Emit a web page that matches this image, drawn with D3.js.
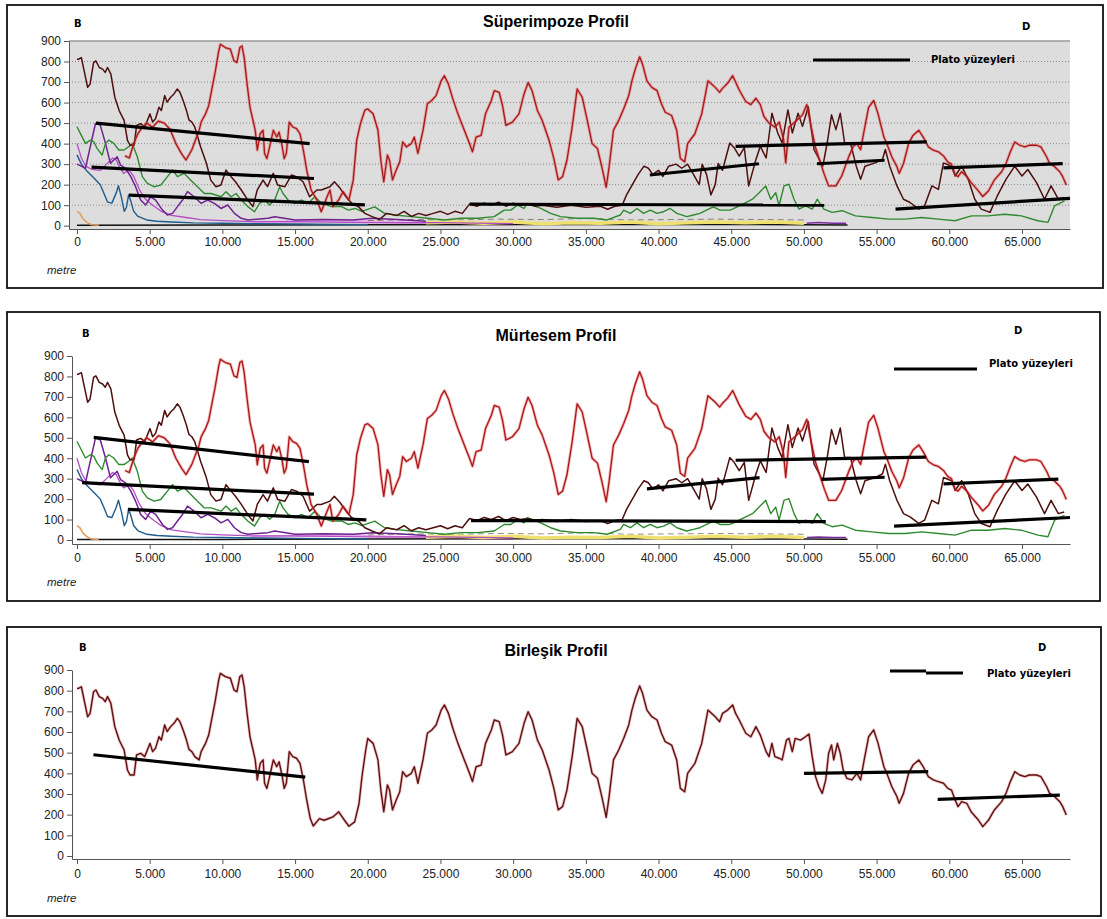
<!DOCTYPE html>
<html>
<head>
<meta charset="utf-8">
<title>Profil</title>
<script src="https://cdn.jsdelivr.net/npm/d3@7"></script>
<style>
  body { margin: 0; background: #fff; }
  svg { display: block; }
</style>
</head>
<body>
<div id="chart"></div>
<script>
// values are [metre, height]

// combined profile (Birlesik) - upper envelope
const combinedProfile = [
  [0,811],[100,811],[300,819],[730,674],[900,690],[1140,795],[1300,803],[1530,771],[1760,763],[1940,747],
  [2100,771],[2330,739],[2600,626],[2900,561],[3240,513],[3470,416],[3650,392],[3930,392],[4100,489],[4380,497],
  [4660,481],[4840,513],[5020,545],[5200,505],[5400,521],[5640,577],[5800,561],[6030,634],[6200,602],[6440,626],
  [6670,642],[6900,666],[7080,650],[7300,610],[7530,561],[7700,516],[7900,505],[8100,481],[8400,465],[8540,505],
  [8840,545],[9060,585],[9300,674],[9500,747],[9750,852],[9860,884],[10200,868],[10550,860],[10800,803],[11000,795],
  [11200,868],[11350,876],[11500,819],[11700,690],[11900,577],[12260,465],[12400,368],[12600,448],[12800,465],[12900,352],
  [13060,327],[13300,400],[13500,465],[13740,432],[13900,456],[14100,392],[14250,327],[14400,352],[14600,505],[14840,481],
  [15100,473],[15340,448],[15570,368],[15800,271],[16050,180],[16250,145],[16670,181],[17000,173],[17600,189],[18000,214],
  [18400,173],[18700,144],[19100,165],[19400,254],[19600,383],[19860,513],[20000,569],[20370,545],[20700,465],[20900,319],
  [21100,214],[21350,344],[21500,319],[21700,223],[21960,271],[22200,311],[22400,408],[22650,384],[23000,400],[23200,432],
  [23450,352],[23800,465],[24100,594],[24400,610],[24700,634],[25050,706],[25270,731],[25550,690],[25850,618],[26200,545],
  [26640,465],[27000,400],[27200,360],[27450,432],[27800,440],[28100,545],[28500,610],[28700,658],[29040,650],[29270,585],
  [29500,489],[29950,505],[30400,545],[30750,642],[31030,698],[31300,658],[31670,561],[32000,513],[32470,416],[32800,327],
  [33100,223],[33400,239],[33700,319],[34060,481],[34400,666],[34750,626],[35100,513],[35430,400],[35800,376],[36100,287],
  [36400,187],[36600,287],[36900,465],[37260,513],[37600,569],[37950,634],[38170,706],[38400,763],[38700,823],[38900,787],
  [39200,706],[39540,674],[39900,658],[40200,594],[40460,553],[40900,537],[41250,465],[41500,327],[41800,311],[42000,400],
  [42500,448],[42970,545],[43400,706],[43900,674],[44200,650],[44400,690],[44750,706],[45100,731],[45300,690],[45550,658],
  [46000,594],[46350,577],[46700,626],[47000,585],[47400,505],[47600,481],[47800,545],[48000,481],[48300,473],[48500,465],
  [48800,561],[48970,569],[49200,505],[49400,569],[49770,561],[50100,577],[50350,590],[50570,481],[50800,384],[51030,335],
  [51260,303],[51500,368],[51700,497],[51900,537],[52050,465],[52300,545],[52500,497],[52700,416],[52950,376],[53300,368],
  [53650,400],[53900,368],[54100,448],[54450,577],[54800,610],[55100,545],[55500,432],[55700,400],[56050,335],[56400,287],
  [56550,255],[56850,303],[57200,400],[57500,440],[57900,465],[58200,432],[58560,384],[58900,368],[59250,360],[59600,352],
  [59900,327],[60150,319],[60400,271],[60600,239],[60850,263],[61200,255],[61500,214],[62000,174],[62300,142],[62700,174],
  [63100,223],[63600,263],[63900,303],[64200,360],[64500,408],[64840,392],[65200,384],[65500,392],[66000,392],[66300,384],
  [66700,335],[66900,303],[67250,287],[67600,263],[67800,239],[68050,198]
];

// red profile where it leaves the envelope
const redLeadIn = [
  [3300,340],[3600,330],[3900,400],[4200,450],[4500,480],[4800,500],[5200,480],[5600,510],[6000,500],[6400,470],
  [6800,400],[7200,350],[7500,320],[7900,370],[8400,465]
];
const redDip = [
  [15800,271],[16100,174],[16500,125],[16800,68],[17200,141],[17400,174],[17600,93],[18000,125],[18300,166],[18700,125],
  [19000,222],[19240,417],[19500,498],[19800,563]
];
const redEast = [
  [44400,669],[44750,694],[45100,731],[45300,700],[45550,661],[46000,605],[46350,590],[46700,621],[47000,590],[47250,532],
  [47600,500],[48000,480],[48300,505],[48600,420],[48750,306],[48970,480],[49300,500],[49600,520],[49900,540],[50200,590],
  [50500,480],[50800,380],[51030,330],[51400,250],[51700,194],[52200,194],[52600,242],[53100,339],[53400,387],[53650,400],
  [53900,370],[54100,448],[54450,577],[54800,610],[55100,545],[55500,432],[55700,400],[56050,335],[56400,287],[56550,255],
  [56850,303],[57200,400],[57500,440],[57900,465],[58200,432],[58560,384],[58900,368],[59250,360],[59600,340],[59900,310],
  [60150,300],[60400,250],[60600,239],[60850,263],[61200,240],[61500,210],[62000,170],[62300,142],[62700,170],[63100,223],
  [63600,263],[63900,303],[64200,360],[64500,408],[64840,392],[65200,384],[65500,392],[66000,392],[66300,384],[66700,335],
  [66900,303],[67250,287],[67600,263],[67800,239],[68050,198]
];

// dark (maroon) profile after it drops below the red one
const maroonTail = [
  [8500,385],[8900,304],[9200,222],[9560,190],[9900,198],[10250,271],[10600,239],[10900,214],[11300,174],[11750,125],
  [12100,93],[12400,174],[12800,222],[13100,190],[13500,255],[13800,198],[14300,190],[14750,247],[15100,239],[15550,214],
  [16000,141],[16500,174],[16800,174],[17400,190],[17700,214],[18100,182],[18500,141],[18900,109],[19350,93],[19800,60],
  [20300,44],[20800,30],[21300,60],[22000,50],[22500,70],[23000,45],[23500,60],[24000,50],[24500,60],[25000,70],
  [25500,55],[26000,70],[26500,60],[27000,105],[27500,95],[28000,110],[28500,100],[29000,115],[29500,95],[30000,110],
  [30500,100],[31000,105],[31500,95],[32000,100],[33000,90],[34000,100],[35000,90],[36000,95],[36500,80],[37000,95],
  [37500,100],[37800,150],[38200,200],[38600,250],[39000,290],[39300,280],[39600,250],[40000,270],[40300,240],[40700,290],
  [41200,300],[41600,280],[42000,300],[42400,250],[42800,200],[43000,300],[43300,250],[43600,150],[43900,200],[44100,303],
  [44400,270],[44900,403],[45200,380],[45550,339],[45900,380],[46200,194],[46700,323],[47000,387],[47400,330],[47800,548],
  [48200,452],[48500,403],[48900,564],[49200,452],[49600,548],[49900,484],[50300,580],[50700,371],[51300,290],[51600,403],
  [51900,540],[52200,468],[52500,548],[52800,403],[53200,403],[53600,290],[53900,226],[54200,290],[54900,306],[55400,323],
  [55600,371],[55900,290],[56400,194],[56850,129],[57300,113],[57900,81],[58300,97],[58800,194],[59250,177],[59600,306],
  [60150,290],[60400,242],[60850,290],[61300,226],[61750,129],[62200,81],[62800,65],[63300,145],[63900,226],[64500,290],
  [65000,242],[65400,274],[66000,210],[66550,129],[67000,194],[67500,129],[67900,137]
];

const greenTrace = [
  [0,482],[230,450],[580,401],[920,417],[1150,410],[1380,377],[1730,344],[1960,401],[2190,417],[2530,401],
  [2880,369],[3230,369],[3570,385],[3800,401],[4150,336],[4490,239],[4840,206],[5300,190],[5760,198],[6220,239],
  [6570,271],[6910,239],[7370,255],[7830,222],[8290,190],[8760,157],[9220,157],[9910,141],[10250,166],[10600,141],
  [10940,157],[11290,125],[11750,93],[12210,68],[12560,109],[12900,125],[13250,101],[13600,125],[13940,190],[14170,157],
  [14520,125],[14980,109],[15440,125],[15900,109],[16360,141],[16820,109],[17510,93],[18200,93],[18660,76],[19120,84],
  [19590,70],[20480,92],[20820,76],[21160,60],[21850,52],[22990,44],[24130,36],[25270,28],[26420,36],[27560,36],
  [28700,44],[29380,76],[29840,76],[30300,100],[30750,84],[30980,109],[31900,84],[32580,60],[33260,44],[34400,36],
  [35550,36],[36460,28],[37370,52],[37600,76],[38060,60],[38520,84],[38970,60],[39430,76],[39890,60],[40340,68],
  [40800,84],[41260,60],[41940,44],[42400,52],[42850,60],[43300,76],[43770,92],[44220,76],[44900,76],[45090,81],
  [46000,113],[46460,129],[46920,161],[47370,194],[47720,129],[48060,161],[48290,97],[48630,194],[48970,202],[49320,129],
  [49660,81],[50110,97],[50570,81],[50910,129],[51370,81],[51940,65],[52630,73],[53540,48],[54680,40],[55820,32],
  [56960,32],[58100,40],[59250,32],[60390,24],[61530,48],[62670,48],[63810,56],[64950,48],[66100,24],[66780,16],
  [67240,97],[67920,121]
];

const purpleA = [
  [0,300],[300,290],[580,280],[1270,498],[1600,490],[1960,401],[2300,304],[2530,320],[2760,336],[3000,295],
  [3340,279],[3700,239],[4030,190],[4380,125],[4720,101],[5070,141],[5410,125],[5880,76],[6220,52],[6570,60],
  [6910,93],[7260,125],[7600,166],[8060,141],[8530,109],[8990,125],[9450,109],[9910,84],[10370,101],[10830,60],
  [11290,36],[11750,28],[13130,36],[13600,44],[15000,28],[17000,30],[19000,28],[20300,36],[22000,30],[24000,22]
];
const purpleB = [
  [0,400],[300,330],[600,290],[1000,275],[1600,270],[2100,305],[2450,330],[2700,320],[2900,290],[3200,255],
  [3600,270],[3900,240],[4300,175],[4700,130],[5200,100],[5800,70],[6500,50],[7500,40],[8500,30],[10000,25],
  [12000,20],[15000,20],[20000,15],[25000,15],[30000,10]
];
const purpleEast = [[50200,12],[51000,15],[52000,12],[52900,12]];

const blueTrace = [
  [0,345],[300,300],[700,265],[1200,230],[1600,200],[1900,150],[2100,115],[2400,110],[2700,160],[2850,195],
  [3050,140],[3250,70],[3400,90],[3550,150],[3700,120],[3900,70],[4200,45],[4800,28],[5500,22],[6500,18],
  [8000,14],[10000,12],[12000,10],[15000,8],[18000,6],[20000,5]
];
const orangeTrace = [[0,70],[200,60],[400,35],[700,15],[1000,5],[1500,3]];
const yellowBand = [
  [24000,14],[26000,18],[28000,12],[30000,18],[32000,10],[34000,14],[36000,12],[38000,18],[40000,10],[42000,14],
  [44000,18],[46000,14],[48000,18],[50000,12]
];
const pinkBand = [[12000,15],[15000,20],[18000,25],[20000,20],[22000,15],[25000,10],[28000,8],[30000,5]];
const oliveTrace = [
  [20000,25],[23000,30],[26000,28],[29000,32],[32000,30],[35000,35],[38000,28],[41000,30],[44000,32],[47000,30],[50000,28]
];
const blackBase = [[0,2],[10000,3],[20000,5],[30000,6],[40000,6],[50000,5],[53000,4]];

// plateau surfaces: [x1, h1, x2, h2]
const plateauSuper = [
  [1300,500,16000,400],[1000,285,16300,230],[3570,149,19800,101],[27000,105,51400,100],[39400,247,46900,302],
  [45300,387,58450,408],[50900,302,55550,319],[59600,282,67800,302],[56300,81,68300,133]
];
const plateauMurt = [
  [1150,502,15950,383],[350,281,16300,224],[3500,150,19900,98],[27100,95,51500,90],[39200,250,46950,305],
  [45300,390,58400,405],[51200,297,55550,307],[59600,275,67500,298],[56200,68,68300,110]
];
const plateauBirl = [[1130,490,15700,382],[50000,400,58550,408],[59200,274,67600,295]];

const xTicks = d3.range(0, 65001, 5000);
const yTicks = d3.range(0, 901, 100);

// red and dark profiles of the first two panels
const redTop = [].concat(
  redLeadIn,
  combinedProfile.filter(d => d[0] >= 8540 && d[0] <= 15570),
  redDip,
  combinedProfile.filter(d => d[0] >= 20000 && d[0] <= 44200),
  redEast
);
const maroonTop = [].concat(combinedProfile.filter(d => d[0] <= 8100), maroonTail);

const fmt = d3.formatLocale({ decimal: ",", thousands: ".", grouping: [3], currency: ["", ""] }).format(",");
const FONT = "'Liberation Sans', Arial, sans-serif";
const BOLD = "'DejaVu Sans', Verdana, sans-serif";

const svg = d3.select("#chart").append("svg")
  .attr("width", 1107)
  .attr("height", 919);

const x = d3.scaleLinear().domain([0, 65000]).range([77, 1022]);
const xRight = 1070;

const allSeries = [
  { data: pinkBand, color: "#e8a8e8", width: 2.5 },
  { data: oliveTrace, color: "#4d4222", width: 1, dash: "6,4", opacity: 0.6 },
  { data: blackBase, color: "#111", width: 1.5 },
  { data: yellowBand, color: "#f0e070", width: 3.5 },
  { data: orangeTrace, color: "#e0a060", width: 1.6 },
  { data: blueTrace, color: "#1f5c8c", width: 1.4 },
  { data: purpleB, color: "#b24ec4", width: 1.3 },
  { data: purpleA, color: "#6e2390", width: 1.5 },
  { data: purpleEast, color: "#7a2a9a", width: 1.5 },
  { data: greenTrace, color: "#2f8a2f", width: 1.4 },
  { data: maroonTop, color: "#4e0f0f", width: 1.5 },
  { data: redTop, color: "#a81818", width: 1.3, halo: "#e84848" }
];

const panels = [
  { box: [7, 5, 1096, 283], top: 41, zero: 225.7, axisY: 229, yAxisX: 69, grey: true, xPad: 3,
    title: "Süperimpoze Profil", titleY: 27, b: [74, 27], d: [1022, 30],
    legend: [[813, 60, 910, 60]], legendText: [931, 63], metreY: 274,
    plateaus: plateauSuper, series: allSeries },
  { box: [7, 312, 1093, 289], top: 356, zero: 540, axisY: 544, yAxisX: 72, grey: false, xPad: 4,
    title: "Mürtesem Profil", titleY: 341, b: [82, 337], d: [1014, 334],
    legend: [[894, 369, 977, 369]], legendText: [989, 367], metreY: 586,
    plateaus: plateauMurt, series: allSeries },
  { box: [7, 627, 1094, 289], top: 670, zero: 856, axisY: 859, yAxisX: 72, grey: false, xPad: 5,
    title: "Birleşik Profil", titleY: 656, b: [79, 651], d: [1038, 651],
    legend: [[890, 671, 926, 671], [926, 673, 963, 673]], legendText: [987, 677], metreY: 902,
    plateaus: plateauBirl,
    series: [{ data: combinedProfile, color: "#5a1414", width: 1.4, halo: "#e06060" }] }
];

panels.forEach(drawPanel);

function drawPanel(p) {
  const g = svg.append("g");
  const y = d3.scaleLinear().domain([0, 900]).range([p.zero, p.top]);
  // axis scales stretched to the frame of the plot
  const xa = x.copy().domain([x.invert(p.yAxisX), x.invert(xRight)]).range([p.yAxisX, xRight]);
  const ya = y.copy().domain([y.invert(p.axisY), 900]).range([p.axisY, p.top]);

  g.append("rect")
    .attr("x", p.box[0]).attr("y", p.box[1])
    .attr("width", p.box[2]).attr("height", p.box[3])
    .attr("fill", "none").attr("stroke", "#111").attr("stroke-width", 1.8);

  if (p.grey) {
    g.append("rect")
      .attr("x", p.yAxisX).attr("y", p.top)
      .attr("width", xRight - p.yAxisX).attr("height", p.axisY - p.top)
      .attr("fill", "#dddddd");
    g.append("g").selectAll("line")
      .data(yTicks.filter(v => v > 0 && v < 900))
      .enter().append("line")
      .attr("x1", p.yAxisX).attr("x2", xRight)
      .attr("y1", d => y(d)).attr("y2", d => y(d))
      .attr("stroke", "#8a8a8a").attr("stroke-dasharray", "1,2");
    g.append("line")
      .attr("x1", p.yAxisX).attr("x2", xRight)
      .attr("y1", y(900)).attr("y2", y(900))
      .attr("stroke", "#999").attr("stroke-width", 1.5);
  }

  const xAxis = g.append("g")
    .attr("transform", "translate(0," + p.axisY + ")")
    .call(d3.axisBottom(xa).tickValues(xTicks).tickFormat(fmt)
      .tickSize(5).tickPadding(p.xPad).tickSizeOuter(0));
  const yAxis = g.append("g")
    .attr("transform", "translate(" + p.yAxisX + ",0)")
    .call(d3.axisLeft(ya).tickValues(yTicks).tickSize(5).tickPadding(3).tickSizeOuter(0));
  [xAxis, yAxis].forEach(a => {
    a.attr("font-size", 12).attr("font-family", FONT);
    a.selectAll("path, line").attr("stroke", "#555");
    a.selectAll("text").attr("fill", "#222");
  });

  const line = d3.line()
    .x(d => x(d[0]))
    .y(d => y(d[1]));

  p.series.forEach(s => {
    if (s.halo) {
      g.append("path").datum(s.data)
        .attr("fill", "none").attr("stroke", s.halo)
        .attr("stroke-width", 3).attr("stroke-opacity", 0.4)
        .attr("stroke-linejoin", "round")
        .attr("d", line);
    }
    g.append("path").datum(s.data)
      .attr("fill", "none").attr("stroke", s.color)
      .attr("stroke-width", s.width)
      .attr("stroke-opacity", s.opacity || 1)
      .attr("stroke-linejoin", "round")
      .attr("stroke-dasharray", s.dash || null)
      .attr("d", line);
  });

  // plateau surfaces
  g.append("g").selectAll("path")
    .data(p.plateaus)
    .enter().append("path")
    .attr("d", d => line([[d[0], d[1]], [d[2], d[3]]]))
    .attr("stroke", "#000").attr("stroke-width", 3.2);

  // legend
  p.legend.forEach(l => {
    g.append("line")
      .attr("x1", l[0]).attr("y1", l[1]).attr("x2", l[2]).attr("y2", l[3])
      .attr("stroke", "#000").attr("stroke-width", 3.2);
  });
  g.append("text")
    .attr("x", p.legendText[0]).attr("y", p.legendText[1])
    .attr("font-family", BOLD).attr("font-weight", "bold").attr("font-size", 10)
    .text("Plato yüzeyleri");

  g.append("text")
    .attr("x", 556).attr("y", p.titleY)
    .attr("text-anchor", "middle")
    .attr("font-family", FONT).attr("font-weight", "bold").attr("font-size", 16)
    .text(p.title);
  g.append("text")
    .attr("x", p.b[0]).attr("y", p.b[1])
    .attr("font-family", BOLD).attr("font-weight", "bold").attr("font-size", 10)
    .text("B");
  g.append("text")
    .attr("x", p.d[0]).attr("y", p.d[1])
    .attr("font-family", BOLD).attr("font-weight", "bold").attr("font-size", 10)
    .text("D");
  g.append("text")
    .attr("x", 47).attr("y", p.metreY)
    .attr("font-family", FONT).attr("font-style", "italic").attr("font-size", 11.5)
    .attr("fill", "#222")
    .text("metre");
}
</script>
</body>
</html>
